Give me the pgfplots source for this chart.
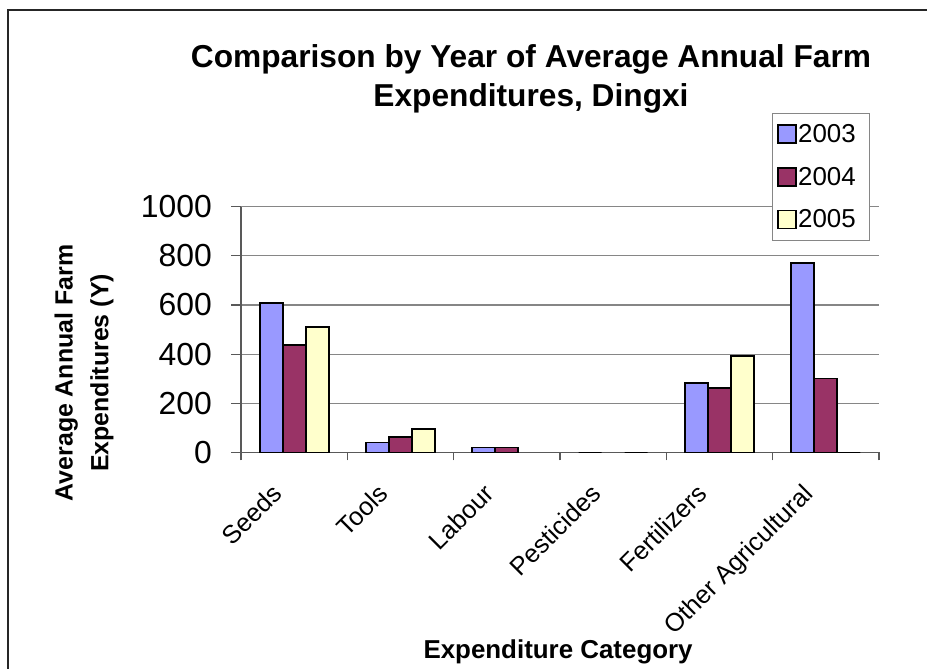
\documentclass[border=0pt]{standalone}
\usepackage{pgfplots}
\pgfplotsset{compat=1.18}
\usepackage{fontspec}
\setmainfont{Liberation Sans}

\definecolor{c2003}{HTML}{9999FF}
\definecolor{c2004}{HTML}{993366}
\definecolor{c2005}{HTML}{FFFFCC}
\definecolor{gridgray}{HTML}{868686}
\definecolor{axisgray}{HTML}{595959}

% Average annual farm expenditures (Y) per category, one table per year
\pgfplotstableread{
x  y
0  607
1  41
2  20
3  0
4  282
5  770
}\yeartwothousandthree
\pgfplotstableread{
x  y
0  438
1  62
2  20
4  261
5  301
}\yeartwothousandfour
\pgfplotstableread{
x  y
0  511
1  94
3  0
4  394
5  0
}\yeartwothousandfive

\begin{document}
\begin{tikzpicture}[x=1bp,y=1bp]
\useasboundingbox (0,0) rectangle (927,669);
% chart frame (left and top edges)
\draw[line width=2bp, black!85] (8,0) -- (8,659) -- (927,659);

% title
\node[anchor=base, font=\bfseries\fontsize{31.8}{36}\selectfont]
  at (531,601) {Comparison by Year of Average Annual Farm};
\node[anchor=base, font=\bfseries\fontsize{31.8}{36}\selectfont]
  at (531,562) {Expenditures, Dingxi};

\begin{axis}[
  at={(241bp,216.5bp)}, anchor=south west,
  scale only axis, width=638bp, height=245.8bp,
  xmin=-0.5, xmax=5.5, ymin=0, ymax=1000,
  ybar=0pt, bar width=23bp,
  axis x line*=bottom, axis y line*=left,
  axis line style={axisgray, line width=1.2bp},
  tick align=outside,
  xtick={0,...,5},
  xticklabels={Seeds, Tools, Labour, Pesticides, Fertilizers, Other Agricultural},
  minor xtick={-0.5,0.5,...,5.5},
  major x tick style={draw=none},
  minor x tick style={axisgray, line width=1.2bp},
  minor tick length=8bp,
  ytick={0,200,...,1000},
  major y tick style={axisgray, line width=1.2bp},
  major tick length=10bp,
  ymajorgrids,
  major grid style={gridgray, line width=1.2bp},
  /pgf/number format/1000 sep={},
  /pgf/number format/assume math mode=true,
  yticklabel style={font=\fontsize{32}{32}\selectfont, anchor=east, inner sep=0pt, xshift=-19bp},
  xticklabel style={font=\fontsize{25.5}{25.5}\selectfont, inner sep=0pt, anchor=base east,
    xshift=-11bp, yshift=-33bp, rotate=45},
  ylabel={Average Annual Farm\\Expenditures (Y)},
  ylabel style={at={(axis description cs:-0.246,0.3234)}, anchor=center, align=center,
    font=\bfseries\fontsize{25}{36}\selectfont},
  xlabel={Expenditure Category},
  xlabel style={at={(axis description cs:0.497,0)}, anchor=base, yshift=-205.5bp,
    font=\bfseries\fontsize{26}{30}\selectfont},
  legend style={at={(axis description cs:0.832,1.381)}, anchor=north west,
    draw=gridgray, line width=1bp, fill=white,
    font=\fontsize{26}{26}\selectfont,
    inner xsep=5bp, inner ysep=10bp, row sep=21bp,
    nodes={inner sep=1bp},
    /tikz/every even column/.append style={column sep=5bp}},
  legend cell align=left,
  swatch/.style={legend image code/.code={\draw[##1] (0bp,-9bp) rectangle (18bp,9bp);}},
]
\addplot[fill=c2003, draw=black, line width=1.8bp, swatch] table[x=x,y=y] {\yeartwothousandthree};
\addplot[fill=c2004, draw=black, line width=1.8bp, swatch] table[x=x,y=y] {\yeartwothousandfour};
\addplot[fill=c2005, draw=black, line width=1.8bp, swatch] table[x=x,y=y] {\yeartwothousandfive};
\legend{2003\hspace*{8bp},2004\hspace*{8bp},2005\hspace*{8bp}}
\end{axis}
\end{tikzpicture}
\end{document}
